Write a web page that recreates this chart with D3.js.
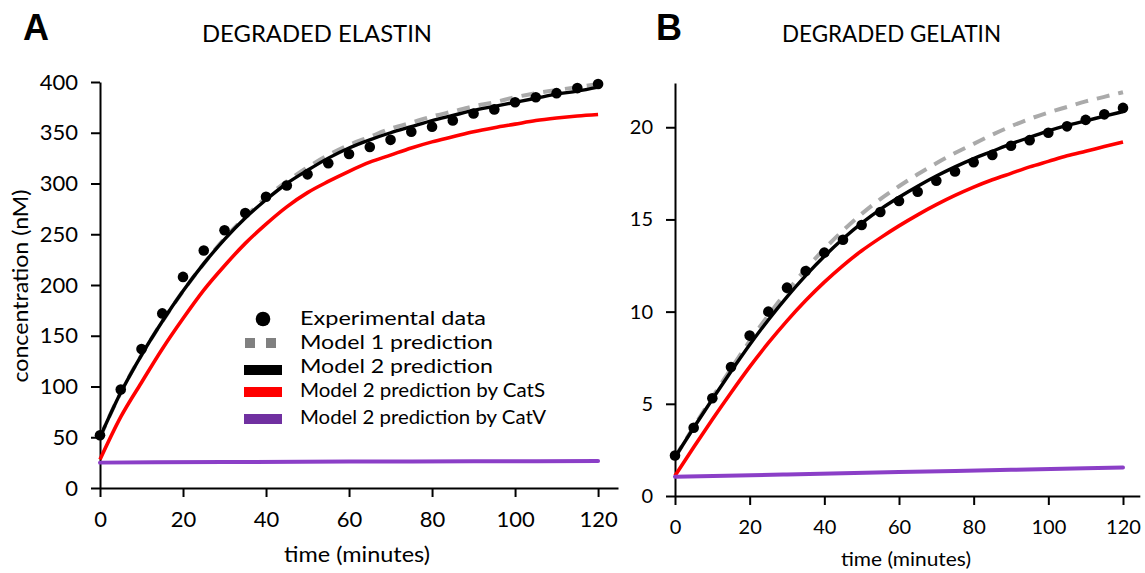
<!DOCTYPE html>
<html>
<head>
<meta charset="utf-8">
<script src="https://cdn.jsdelivr.net/npm/d3@7"></script>
<style>
  html, body { margin: 0; padding: 0; background: #fff; }
  svg { display: block; }
  text { font-family: Lato, "Open Sans", sans-serif; fill: #000; }
</style>
</head>
<body>
<script>
// Sampling times (minutes)
const minutes = [0, 5, 10, 15, 20, 25, 30, 35, 40, 45, 50, 55, 60, 65, 70, 75, 80, 85, 90, 95, 100, 105, 110, 115, 120];
const catVMinutes = [0, 30, 60, 90, 120];
const xTicks = [0, 20, 40, 60, 80, 100, 120];

// Degraded elastin (nM)
const elastinData   = [52, 97, 137, 172, 208, 234, 254, 271, 287, 298, 309, 320, 329, 336, 343, 351, 356, 362, 369, 373, 380, 385, 389, 394, 398];
const elastinModel1 = [50, 94, 131, 164, 194, 221, 246, 267, 286, 302, 316, 328, 338, 346, 354, 360, 366, 371, 376, 380, 385, 389, 392, 395, 398];
const elastinModel2 = [50, 94, 131, 164, 194, 221, 245, 266, 284, 300, 313, 325, 335, 343, 350, 356, 362, 367, 372, 376, 380, 384, 388, 391, 395];
const elastinCatS   = [28, 70, 104, 137, 167, 195, 219, 241, 260, 277, 291, 302, 312, 321, 328, 335, 341, 346, 351, 355, 358.5, 362, 364.5, 366.5, 368];
const elastinCatV   = [25, 25.6, 26, 26.3, 26.6];
const elastinYTicks = [0, 50, 100, 150, 200, 250, 300, 350, 400];

// Degraded gelatin
const gelatinData   = [2.2, 3.7, 5.3, 7.0, 8.7, 10.0, 11.3, 12.2, 13.2, 13.9, 14.7, 15.4, 16.0, 16.5, 17.1, 17.6, 18.1, 18.5, 19.0, 19.3, 19.7, 20.05, 20.4, 20.7, 21.05];
const gelatinModel1 = [2.1, 3.75, 5.35, 6.9, 8.4, 9.8, 11.1, 12.3, 13.4, 14.4, 15.3, 16.1, 16.8, 17.45, 18.05, 18.6, 19.1, 19.6, 20.05, 20.45, 20.8, 21.1, 21.4, 21.65, 21.9];
const gelatinModel2 = [2.1, 3.7, 5.25, 6.75, 8.2, 9.55, 10.8, 11.95, 13.0, 13.95, 14.8, 15.55, 16.2, 16.8, 17.35, 17.85, 18.3, 18.7, 19.1, 19.45, 19.8, 20.1, 20.35, 20.6, 20.85];
const gelatinCatS   = [1.1, 2.65, 4.15, 5.6, 7.0, 8.3, 9.5, 10.6, 11.6, 12.5, 13.3, 14.0, 14.65, 15.25, 15.8, 16.3, 16.75, 17.15, 17.5, 17.85, 18.15, 18.45, 18.7, 18.95, 19.2];
const gelatinCatV   = [1.05, 1.17, 1.3, 1.42, 1.55];
const gelatinYTicks = [0, 5, 10, 15, 20];

const legendLabels = ["Experimental data", "Model 1 prediction", "Model 2 prediction",
                      "Model 2 prediction by CatS", "Model 2 prediction by CatV"];

const COLORS = { data: "#000", model1: "#aaaaaa", model2: "#000", catS: "#ff0000", catV: "#8b3fc7" };

const svg = d3.select("body").append("svg")
  .attr("width", 1145).attr("height", 573);

function sized(sel, len) {
  return sel.attr("textLength", len).attr("lengthAdjust", "spacingAndGlyphs");
}

function drawPanel(p) {
  const g = svg.append("g");
  const x = d3.scaleLinear().domain(p.xDomain).range(p.xRange);
  const y = d3.scaleLinear().domain(p.yDomain).range(p.yRange);

  // axes
  const xAxis = g.append("g")
    .attr("transform", `translate(0,${p.yRange[0]})`)
    .call(d3.axisBottom(x).tickValues(xTicks).tickSize(9).tickSizeOuter(0).tickPadding(p.xPad));
  const yAxis = g.append("g")
    .attr("transform", `translate(${p.xRange[0]},0)`)
    .call(d3.axisLeft(y).tickValues(p.yTicks).tickSize(9).tickSizeOuter(0).tickPadding(13));
  [xAxis, yAxis].forEach(a => {
    a.selectAll("path.domain, line").attr("stroke", "#000").attr("stroke-width", 2);
    a.selectAll("text").style("font-size", p.tickFont + "px").attr("fill", "#000");
  });

  const line = (xs, ys) => d3.line().curve(d3.curveMonotoneX)
    .x((d, i) => x(xs[i])).y(d => y(d))(ys);

  g.append("path").attr("d", line(minutes, p.model1))
    .attr("fill", "none").attr("stroke", COLORS.model1).attr("stroke-width", 4)
    .attr("stroke-dasharray", "13,9");
  g.append("path").attr("d", line(minutes, p.catS))
    .attr("fill", "none").attr("stroke", COLORS.catS).attr("stroke-width", 3.6);
  g.append("path").attr("d", line(catVMinutes, p.catV))
    .attr("fill", "none").attr("stroke", COLORS.catV).attr("stroke-width", 4).attr("stroke-linecap", "round");
  g.append("path").attr("d", line(minutes, p.model2))
    .attr("fill", "none").attr("stroke", COLORS.model2).attr("stroke-width", 3.4);

  g.selectAll("circle.pt").data(p.data).join("circle")
    .attr("class", "pt")
    .attr("cx", (d, i) => x(minutes[i])).attr("cy", d => y(d))
    .attr("r", 5.3).attr("fill", COLORS.data);

  // panel letter and title
  g.append("text").attr("x", p.letterX).attr("y", 40)
    .style("font-family", "'Liberation Sans', Arial, sans-serif")
    .style("font-weight", "bold").style("font-size", "36px").text(p.letter);
  sized(g.append("text").attr("x", p.titleX).attr("y", 42).style("font-size", "24px").text(p.title), p.titleW);

  // axis labels
  sized(g.append("text").attr("x", p.xLabelX).attr("y", p.xLabelY)
    .style("font-size", p.xLabelFont + "px").text("time (minutes)"), p.xLabelW);
  if (p.yLabel) {
    sized(g.append("text")
      .attr("transform", `translate(28,${286 + 96.5}) rotate(-90)`)
      .style("font-size", "21px").text(p.yLabel), 193);
  }
  return { x, y, g };
}

const A = drawPanel({
  letter: "A", letterX: 23, title: "DEGRADED ELASTIN", titleX: 202, titleW: 230,
  xDomain: [0, 124.8], xRange: [100, 618], yDomain: [0, 400], yRange: [488, 82],
  yTicks: elastinYTicks, tickFont: 22, xPad: 14,
  data: elastinData, model1: elastinModel1, model2: elastinModel2, catS: elastinCatS, catV: elastinCatV,
  xLabelX: 284, xLabelY: 562, xLabelW: 146, xLabelFont: 21,
  yLabel: "concentration (nM)"
});

drawPanel({
  letter: "B", letterX: 656, title: "DEGRADED GELATIN", titleX: 782, titleW: 219,
  xDomain: [0, 124.5], xRange: [675, 1139.8], yDomain: [0, 22.4], yRange: [496, 83],
  yTicks: gelatinYTicks, tickFont: 20, xPad: 15,
  data: gelatinData, model1: gelatinModel1, model2: gelatinModel2, catS: gelatinCatS, catV: gelatinCatV,
  xLabelX: 841, xLabelY: 566, xLabelW: 130, xLabelFont: 20
});

// legend (panel A)
const lg = A.g.append("g");
const rowY = [319, 343, 370, 392, 419];
const textY = [325, 349, 373, 397, 424];
const textW = [186, 193, 193, 245, 246];
lg.append("circle").attr("cx", 263).attr("cy", rowY[0]).attr("r", 7.3).attr("fill", "#000");
[245, 266].forEach(sx => lg.append("rect").attr("x", sx).attr("y", rowY[1] - 5)
  .attr("width", 10).attr("height", 10).attr("fill", "#808080"));
["#000", "#ff0000", "#7030a0"].forEach((c, i) =>
  lg.append("rect").attr("x", 244).attr("y", rowY[i + 2] - 5).attr("width", 38).attr("height", 10).attr("fill", c));
legendLabels.forEach((t, i) =>
  sized(lg.append("text").attr("x", 300).attr("y", textY[i]).style("font-size", "19.5px").text(t), textW[i]));
</script>
</body>
</html>
